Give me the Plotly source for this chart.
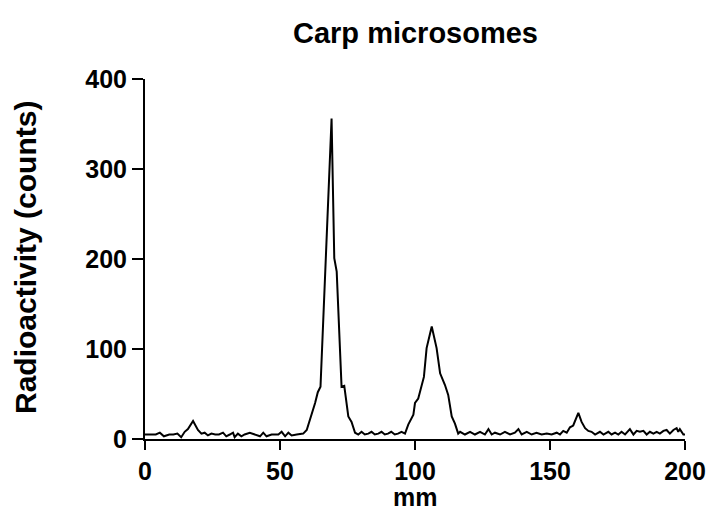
import plotly.graph_objects as go

# Distance along the plate (mm) and measured radioactivity (counts)
mm = [0, 2, 4, 5.5, 7, 9, 10.5, 12, 13.4, 14.7, 15.9, 17.8, 19.6, 20.9, 22.1, 23.3, 24.6, 26, 27.4,
      28.9, 30.1, 31.4, 32.6, 33.2, 34.4, 35.7, 36.9, 38.8, 40.7, 42.6, 43.8, 45, 46.9, 48.2, 49.4,
      50.6, 51.9, 53.1, 54.3, 56.2, 58.6, 59.9, 60.9, 62, 63, 64, 65, 69.1, 70.1, 71, 72.8, 73.8,
      74.7, 75.3, 76.5, 77.8, 79, 80.2, 81.4, 82.7, 83.9, 85.1, 86.4, 87.6, 88.8, 90, 91.2, 92.5,
      93.7, 95, 96.3, 97.5, 99.4, 100, 101.2, 102.5, 103.3, 104.3, 106.2, 108, 109.3, 111.1, 112.3,
      113.6, 114.8, 116, 116.7, 118.5, 120.4, 122.2, 124.1, 125.9, 127.2, 128.4, 129.6, 131.5,
      133.3, 135.2, 137, 138.3, 139.5, 141.4, 143.2, 145, 146.9, 148.8, 150.6, 152.5, 153.7, 154.9,
      156.2, 157.4, 158.6, 160.5, 161.7, 163, 164.2, 165.4, 166.7, 168.5, 169.8, 171.6, 172.8,
      174.1, 175.3, 176.5, 177.8, 179.6, 180.9, 182.1, 183.3, 184.6, 185.8, 187, 188.3, 189.5,
      190.7, 192, 193.2, 194.4, 195.7, 196.9, 197.5, 198.1, 199.4, 200]
counts = [5, 5, 5, 7, 3, 5, 5, 6, 2, 8, 11, 20, 10, 6, 7, 4, 6, 5, 5,
          7, 3, 5, 7, 2, 6, 3, 5, 7, 5, 3, 7, 3, 5, 5, 5,
          8, 3, 7, 4, 5, 6, 10, 19, 30, 40, 52, 58, 356, 201, 186, 58, 59,
          34, 25, 19, 7, 5, 8, 5, 6, 8, 5, 6, 8, 5, 6, 8, 5,
          6, 8, 6, 16, 27, 40, 45, 62, 69, 101, 125, 101, 73, 60, 49,
          25, 17, 6, 8, 5, 8, 5, 8, 5, 11, 5, 7, 5,
          8, 5, 7, 11, 5, 8, 5, 7, 5, 6, 5, 7, 5, 9,
          7, 13, 15, 29, 19, 12, 9, 8, 5, 8, 5, 8, 5,
          7, 5, 8, 5, 11, 5, 9, 8, 9, 5, 8, 6, 8,
          6, 9, 10, 6, 10, 12, 8, 11, 5, 5]

x_ticks = [0, 50, 100, 150, 200]
y_ticks = [0, 100, 200, 300, 400]

FONT = "Liberation Sans"

fig = go.Figure()
fig.add_trace(go.Scatter(x=mm, y=counts, mode="lines",
                         line=dict(color="black", width=2), showlegend=False,
                         cliponaxis=False))

axis_common = dict(showgrid=False, zeroline=False, showline=True, linecolor="black", linewidth=2,
                   ticks="outside", tickwidth=2, tickcolor="black",
                   tickfont=dict(size=25, family=FONT, color="black"), automargin=False)

fig.update_layout(
    width=709, height=514,
    margin=dict(l=145, r=24, t=79, b=75),
    paper_bgcolor="white", plot_bgcolor="white",
    font=dict(family=FONT, color="black"),
    xaxis=dict(range=[0, 200], tickvals=x_ticks, ticktext=[f"<b>{v}</b>" for v in x_ticks],
               ticklen=9, **axis_common),
    yaxis=dict(range=[0, 400], tickvals=y_ticks, ticktext=[f"<b>{v}</b>" for v in y_ticks],
               ticklen=11, **axis_common),
    annotations=[
        dict(text="<b>Carp microsomes</b>", xref="paper", yref="paper", x=0.5, y=(439 - 33) / 360,
             xanchor="center", yanchor="middle", showarrow=False,
             font=dict(size=29, family=FONT, color="black")),
        dict(text="<b>mm</b>", xref="paper", yref="paper", x=0.5, y=(439 - 497) / 360,
             xanchor="center", yanchor="middle", showarrow=False,
             font=dict(size=25, family=FONT, color="black")),
        dict(text="<b>Radioactivity (counts)</b>", xref="paper", yref="paper",
             x=(25 - 145) / 540, y=(439 - 258) / 360, textangle=-90,
             xanchor="center", yanchor="middle", showarrow=False,
             font=dict(size=30, family=FONT, color="black")),
    ],
)

# remove the default page margin so the figure fills the window exactly
fig.write_html("out.html", config={"displayModeBar": False},
               post_script="document.body.style.margin='0';document.body.style.overflow='hidden';")
